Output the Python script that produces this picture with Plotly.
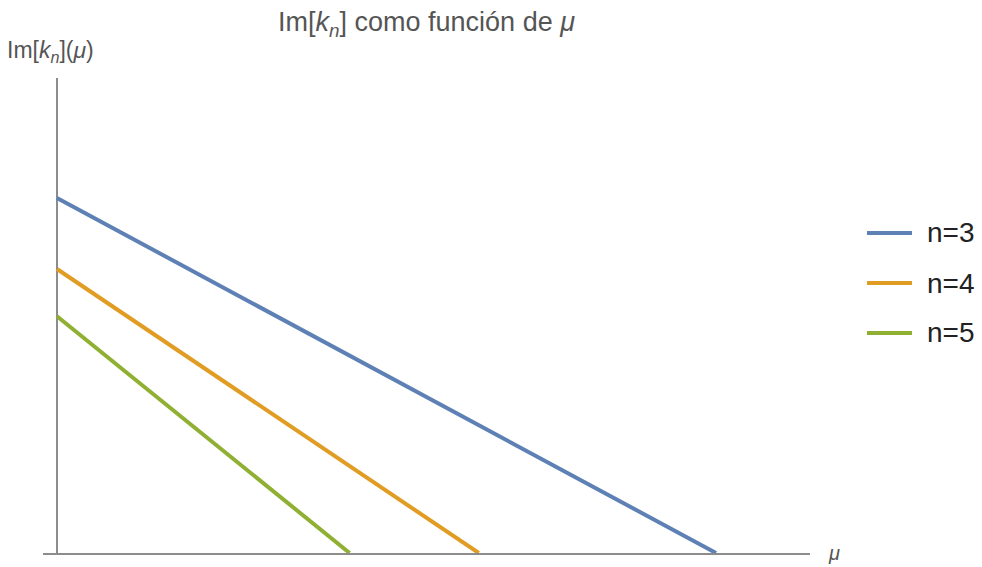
import plotly.graph_objects as go

# Im[k_n](mu) for each mode: straight segments from the mu = 0 intercept to the zero crossing
modes = ["n=3", "n=4", "n=5"]
mu_start = [0.0, 0.0, 0.0]
mu_end = [1.0, 0.64, 0.444]
im_start = [1.0, 0.8, 0.667]
im_end = [0.0, 0.0, 0.0]
colors = ["#5e81b5", "#e19c24", "#8fb032"]

fig = go.Figure()
for i, name in enumerate(modes):
    fig.add_trace(go.Scatter(
        x=[mu_start[i], mu_end[i]],
        y=[im_start[i], im_end[i]],
        mode="lines",
        name=name,
        showlegend=False,
        line=dict(color=colors[i], width=4),
    ))

# Legend drawn by hand: a short coloured stroke and a label per mode
legend_x0, legend_x1, legend_tx = 1.0743, 1.1330, 1.1499
legend_y = [0.6737, 0.5684, 0.4632]
shapes = []
annotations = []
for i, name in enumerate(modes):
    shapes.append(dict(type="line", xref="paper", yref="paper",
                       x0=legend_x0, x1=legend_x1, y0=legend_y[i], y1=legend_y[i],
                       line=dict(color=colors[i], width=4)))
    annotations.append(dict(text=name, xref="paper", yref="paper",
                            x=legend_tx, y=legend_y[i], xanchor="left", yanchor="middle",
                            showarrow=False, font=dict(size=28, color="#222222")))

axis_color = "#8c8c8c"
annotations += [
    dict(text="Im[<i>k</i><sub><i>n</i></sub>](<i>μ</i>)", xref="paper", yref="paper",
         x=-0.05, y=1.0, xanchor="left", yanchor="bottom", yshift=10,
         showarrow=False, font=dict(size=23, color="#555555")),
    dict(text="<i>μ</i>", xref="paper", yref="paper",
         x=1.0, y=0.0, xanchor="left", yanchor="middle", xshift=16,
         showarrow=False, font=dict(size=20, color="#555555")),
]

fig.update_layout(
    width=982, height=567,
    paper_bgcolor="white", plot_bgcolor="white",
    margin=dict(l=43, r=172, t=78, b=14),
    font=dict(family="Liberation Sans, Arial, sans-serif", color="#555555"),
    title=dict(
        text="Im[<i>k</i><sub><i>n</i></sub>] como función de <i>μ</i>",
        x=0.5, xref="paper", xanchor="center",
        y=0.962, yref="container", yanchor="middle",
        font=dict(size=27, color="#555555"),
    ),
    xaxis=dict(
        range=[-0.0212, 1.1426], showgrid=False, showticklabels=False, ticks="",
        zeroline=True, zerolinecolor=axis_color, zerolinewidth=1.5,
        showline=True, linecolor=axis_color, linewidth=1.5,
    ),
    yaxis=dict(
        range=[0, 1.338], showgrid=False, showticklabels=False, ticks="",
        zeroline=False, showline=False,
    ),
    shapes=shapes,
    annotations=annotations,
)

fig.write_html("out.html")
